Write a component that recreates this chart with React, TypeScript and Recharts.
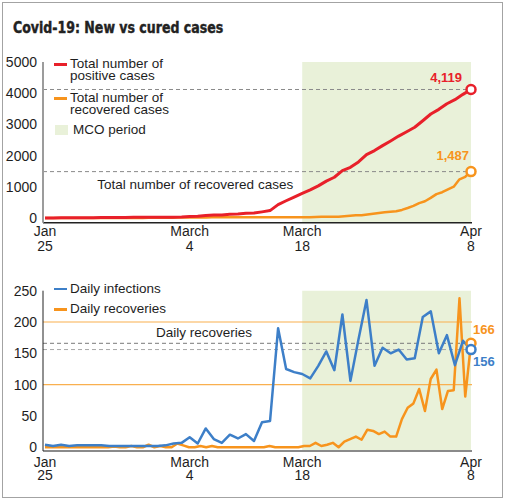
import React from "react";
import {
  LineChart,
  Line,
  XAxis,
  YAxis,
  ReferenceArea,
  ReferenceLine,
  Legend,
} from "recharts";

const RED = "#e8202a";
const ORANGE = "#f7941d";
const BLUE = "#3d7fc8";
const MCO = "#e9f1d9";
const INK = "#1e1e1e";
const FONT = "'Liberation Sans', Arial, Helvetica, sans-serif";

function dayRange(month: string, from: number, to: number) {
  const out: string[] = [];
  for (let d = from; d <= to; d++) out.push(`${month} ${d}`);
  return out;
}

// dates on which case counts were reported (evenly spaced on the axis)
const EARLY_REPORTS = [
  "Jan 25", "Jan 27", "Jan 29", "Jan 31", "Feb 2", "Feb 4", "Feb 6", "Feb 8", "Feb 10",
  "Feb 12", "Feb 14", "Feb 16", "Feb 18", "Feb 20", "Feb 22", "Feb 24", "Feb 27", "Mar 1",
];
const REPORT_DATES = [...EARLY_REPORTS, ...dayRange("Mar", 4, 31), ...dayRange("Apr", 1, 8)];

// recoveries are listed day by day over the same span
const RECOVERY_DATES = [
  ...dayRange("Jan", 25, 31),
  ...dayRange("Feb", 1, 29),
  ...dayRange("Mar", 1, 31),
  ...dayRange("Apr", 1, 8),
];

const TOTAL_POSITIVE = [
  3, 4, 7, 8, 8, 10, 12, 16, 18, 18, 19, 22, 22, 22, 22, 22, 23, 29,
  50, 55, 83, 93, 99, 117, 129, 149, 158, 197,
  238, 428, 553, 673, 790, 900, 1030, 1183, 1306, 1518, 1624, 1796, 2031, 2161, 2320,
  2470, 2626, 2766, 2908, 3116, 3333, 3483, 3662, 3793, 3963, 4119,
];

const DAILY_INFECTIONS = [
  4, 2, 4, 2, 3, 3, 3, 3, 2, 2, 2, 2, 2, 2, 2, 3, 6, 7,
  16, 6, 30, 13, 7, 20, 14, 21, 10, 40,
  42, 190, 125, 120, 117, 110, 130, 153, 123, 212, 106, 172, 235, 130, 159,
  150, 156, 140, 142, 208, 217, 150, 179, 131, 170, 156,
];

const TOTAL_RECOVERED = [
  0, 0, 0, 0, 0, 0, 0, 0, 0, 0, 0, 0,
  1, 1, 1, 3, 3, 3, 7, 7, 9, 9, 9, 15, 18, 18, 18, 20, 20, 22,
  22, 22, 22, 22, 22, 22, 22, 22, 22,
  24, 24, 24, 24, 24, 24, 26, 27, 35, 37, 42, 42, 42, 60, 75, 87, 87, 114, 139,
  159, 183, 199, 215, 259, 320, 388, 479, 537, 645, 767, 827, 915, 1005, 1241, 1321, 1487,
];

const DAILY_RECOVERED = [
  0, 0, 0, 0, 0, 0, 0, 0, 0, 0, 0, 0,
  1, 0, 0, 2, 0, 0, 4, 0, 2, 0, 0, 6, 3, 0, 0, 2, 0, 2,
  0, 0, 0, 0, 0, 0, 0, 0, 0,
  2, 0, 0, 0, 0, 0, 2, 2, 7, 2, 4, 7, 0, 9, 13, 17, 12, 28, 26,
  21, 25, 17, 17, 45, 63, 70, 93, 58, 109, 124, 61, 90, 91, 238, 81, 166,
];

const X_TICKS = ["Jan 25", "Mar 4", "Mar 18", "Apr 8"];
const X_TICK_LINES: Record<string, string[]> = {
  "Jan 25": ["Jan", "25"],
  "Mar 4": ["March", "4"],
  "Mar 18": ["March", "18"],
  "Apr 8": ["Apr", "8"],
};
const TOTAL_TICKS = [0, 1000, 2000, 3000, 4000, 5000];
const DAILY_TICKS = [0, 50, 100, 150, 200, 250];
const MCO_START = "Mar 18";

const reportData = REPORT_DATES.map((date, i) => ({
  date,
  total: TOTAL_POSITIVE[i],
  daily: DAILY_INFECTIONS[i],
}));
const recoveryData = RECOVERY_DATES.map((date, i) => ({
  date,
  total: TOTAL_RECOVERED[i],
  daily: DAILY_RECOVERED[i],
}));

const lastPositive = TOTAL_POSITIVE[TOTAL_POSITIVE.length - 1];
const lastRecovered = TOTAL_RECOVERED[TOTAL_RECOVERED.length - 1];
const lastInfections = DAILY_INFECTIONS[DAILY_INFECTIONS.length - 1];
const lastRecoveries = DAILY_RECOVERED[DAILY_RECOVERED.length - 1];

const dateTick = (gap: number) => (props: any) => {
  const { x, y, payload } = props;
  const [a, b] = X_TICK_LINES[payload.value] ?? [payload.value, ""];
  return (
    <text x={x} y={y} textAnchor="middle" fontSize={14} fill={INK}>
      <tspan x={x} dy="0.71em">{a}</tspan>
      <tspan x={x} dy={gap}>{b}</tspan>
    </text>
  );
};

// open circle on the last point, with its value beside it
const endDot =
  (color: string, last: number, dx: number, dy: number, anchor: "start" | "end") =>
  (props: any) => {
    const { cx, cy, index, value } = props;
    if (index !== last) return <g key={`d${index}`} />;
    const v = Array.isArray(value) ? value[1] : value;
    return (
      <g key={`d${index}`}>
        <circle cx={cx} cy={cy} r={4.5} fill="#fff" stroke={color} strokeWidth={2.5} />
        <text
          x={cx + dx}
          y={cy + dy}
          textAnchor={anchor}
          fill={color}
          fontSize={13}
          fontWeight="bold"
        >
          {Number(v).toLocaleString("en-US")}
        </text>
      </g>
    );
  };

const note = (text: string, dx: number, dy: number) => (props: any) => {
  const vb = props.viewBox;
  return (
    <text x={vb.x + dx} y={vb.y + dy} fontSize={13.5} fill={INK}>
      {text}
    </text>
  );
};

function LineSwatch({ color, h }: { color: string; h: number }) {
  return (
    <div
      style={{
        width: 13,
        height: h,
        background: color,
        marginTop: 7 - h / 2,
        marginRight: 3,
        flex: "none",
      }}
    />
  );
}

function TopLegend() {
  return (
    <div style={{ fontSize: 13.5, lineHeight: "12.7px", color: INK, fontFamily: FONT }}>
      <div style={{ display: "flex" }}>
        <LineSwatch color={RED} h={3} />
        <div>
          Total number of
          <br />
          positive cases
        </div>
      </div>
      <div style={{ display: "flex", marginTop: 8.6 }}>
        <LineSwatch color={ORANGE} h={3} />
        <div>
          Total number of
          <br />
          recovered cases
        </div>
      </div>
      <div style={{ display: "flex", marginTop: 6.6 }}>
        <div
          style={{
            width: 12.5,
            height: 10,
            background: MCO,
            marginLeft: 1,
            marginTop: 1.4,
            marginRight: 5.5,
            flex: "none",
          }}
        />
        <div>MCO period</div>
      </div>
    </div>
  );
}

function BottomLegend() {
  return (
    <div style={{ fontSize: 13.5, lineHeight: "14px", color: INK, fontFamily: FONT }}>
      <div style={{ display: "flex" }}>
        <LineSwatch color={BLUE} h={2} />
        <div>Daily infections</div>
      </div>
      <div style={{ display: "flex", marginTop: 6.3 }}>
        <LineSwatch color={ORANGE} h={3} />
        <div>Daily recoveries</div>
      </div>
    </div>
  );
}

export default function App() {
  return (
    <div
      style={{
        position: "absolute",
        left: 0,
        top: 0,
        width: 508,
        height: 500,
        background: "#fff",
        fontFamily: FONT,
      }}
    >
      <div
        style={{
          position: "absolute",
          left: 2,
          top: 2,
          width: 501,
          height: 496,
          boxSizing: "border-box",
          border: "1px solid #a3a3a3",
        }}
      />
      <div
        style={{
          position: "absolute",
          left: 13,
          top: 19.5,
          fontFamily: "'DejaVu Sans Condensed', 'DejaVu Sans', sans-serif",
          fontWeight: 700,
          fontSize: 15.5,
          lineHeight: "16px",
          color: "#222",
          WebkitTextStroke: "0.4px #222",
          whiteSpace: "nowrap",
          transform: "scaleX(0.9)",
          transformOrigin: "0 0",
        }}
      >
        Covid-19: New vs cured cases
      </div>

      <div style={{ position: "absolute", left: 0, top: 0 }}>
        <LineChart width={508} height={262} margin={{ top: 62, right: 36, bottom: 9.3, left: 0 }}>
          <XAxis
            xAxisId="main"
            dataKey="date"
            ticks={X_TICKS}
            interval={0}
            tickLine={false}
            tickSize={1}
            tickMargin={2}
            tick={dateTick(15.3)}
            axisLine={{ stroke: "#222", strokeWidth: 1.5 }}
            padding={{ left: 2, right: 1 }}
          />
          <XAxis xAxisId="daily" dataKey="date" hide height={0} padding={{ left: 2, right: 1 }} />
          <YAxis
            width={43}
            domain={[-150, 5000]}
            ticks={TOTAL_TICKS}
            interval={0}
            tickLine={false}
            tickSize={4}
            tickMargin={2}
            tick={{ fontSize: 14, fill: INK }}
            axisLine={{ stroke: "#9c9c9c", strokeWidth: 2 }}
          />
          <ReferenceArea xAxisId="main" x1={MCO_START} fill={MCO} fillOpacity={1} stroke="none" />
          <ReferenceLine
            xAxisId="main"
            y={lastPositive}
            stroke="#8a8a8a"
            strokeDasharray="4 3"
          />
          <ReferenceLine
            xAxisId="main"
            y={lastRecovered}
            stroke="#8a8a8a"
            strokeDasharray="4 3"
            label={note("Total number of recovered cases", 54.3, 17)}
          />
          <Legend
            layout="vertical"
            align="center"
            verticalAlign="middle"
            wrapperStyle={{ top: 57.6, left: 54, width: 200 }}
            content={() => <TopLegend />}
          />
          <Line
            xAxisId="daily"
            data={recoveryData}
            dataKey="total"
            type="linear"
            stroke={ORANGE}
            strokeWidth={2.5}
            strokeLinejoin="round"
            dot={endDot(ORANGE, recoveryData.length - 1, -2, -12, "end")}
            activeDot={false}
            isAnimationActive={false}
          />
          <Line
            xAxisId="main"
            data={reportData}
            dataKey="total"
            type="linear"
            stroke={RED}
            strokeWidth={3}
            strokeLinejoin="round"
            dot={endDot(RED, reportData.length - 1, -9, -7.5, "end")}
            activeDot={false}
            isAnimationActive={false}
          />
        </LineChart>
      </div>

      <div style={{ position: "absolute", left: 0, top: 270 }}>
        <LineChart width={508} height={230} margin={{ top: 20.7, right: 36, bottom: 19, left: 0 }}>
          <XAxis
            xAxisId="main"
            dataKey="date"
            ticks={X_TICKS}
            interval={0}
            tickLine={false}
            tickSize={4}
            tickMargin={2}
            tick={dateTick(13.3)}
            axisLine={{ stroke: "#8a8a8a", strokeWidth: 2 }}
            padding={{ left: 2, right: 1 }}
          />
          <XAxis xAxisId="daily" dataKey="date" hide height={0} padding={{ left: 2, right: 1 }} />
          <YAxis
            width={43}
            domain={[-6, 250]}
            ticks={DAILY_TICKS}
            interval={0}
            tickLine={false}
            tickSize={4}
            tickMargin={2}
            tick={{ fontSize: 14, fill: INK }}
            axisLine={{ stroke: "#222", strokeWidth: 1 }}
          />
          <ReferenceArea xAxisId="main" x1={MCO_START} fill={MCO} fillOpacity={1} stroke="none" />
          <ReferenceLine xAxisId="main" y={200} stroke="#f9b04f" strokeWidth={1.2} />
          <ReferenceLine xAxisId="main" y={100} stroke="#f9b04f" strokeWidth={1.2} />
          <ReferenceLine
            xAxisId="main"
            y={lastRecoveries}
            stroke="#7a7a7a"
            strokeDasharray="4 3"
            label={note("Daily recoveries", 113, -6.3)}
          />
          <ReferenceLine
            xAxisId="main"
            y={lastInfections}
            stroke="#a8a8a8"
            strokeDasharray="4 3"
          />
          <Legend
            layout="vertical"
            align="center"
            verticalAlign="middle"
            wrapperStyle={{ top: 12, left: 54, width: 200 }}
            content={() => <BottomLegend />}
          />
          <Line
            xAxisId="daily"
            data={recoveryData}
            dataKey="daily"
            type="linear"
            stroke={ORANGE}
            strokeWidth={2.5}
            strokeLinejoin="round"
            dot={endDot(ORANGE, recoveryData.length - 1, 2, -9, "start")}
            activeDot={false}
            isAnimationActive={false}
          />
          <Line
            xAxisId="main"
            data={reportData}
            dataKey="daily"
            type="linear"
            stroke={BLUE}
            strokeWidth={2.5}
            strokeLinejoin="round"
            dot={endDot(BLUE, reportData.length - 1, 2, 16, "start")}
            activeDot={false}
            isAnimationActive={false}
          />
        </LineChart>
      </div>
    </div>
  );
}
